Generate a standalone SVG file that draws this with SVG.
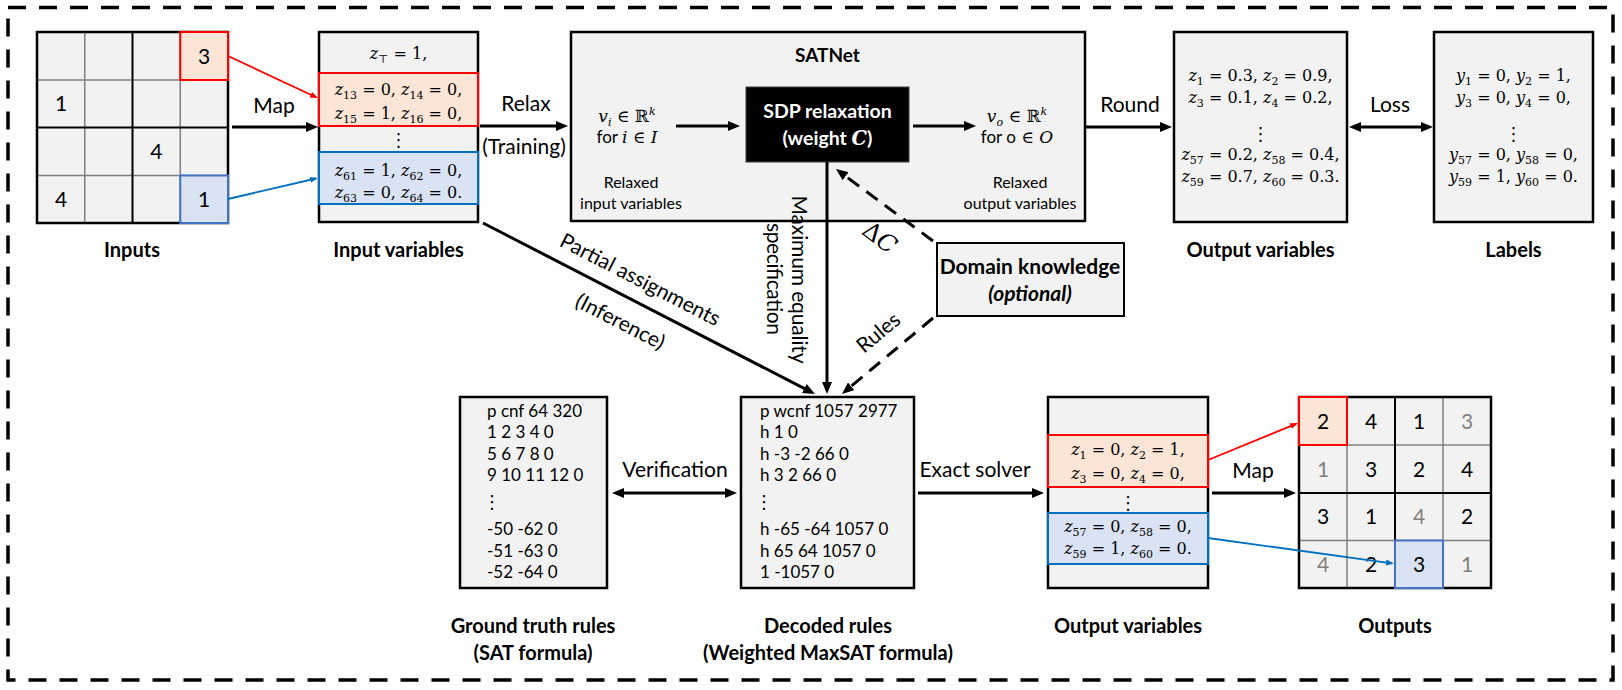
<svg xmlns="http://www.w3.org/2000/svg" width="1622" height="690" viewBox="0 0 1622 690">
<style>
.t{font-family:Lato,"Liberation Sans",sans-serif;font-size:21px;fill:#000}
.sm{font-size:16px}
.b{font-weight:bold}
.lbl{font-family:Lato,"Liberation Sans",sans-serif;font-size:20px;font-weight:bold;text-anchor:middle;fill:#000}
.m{font-family:"DejaVu Serif","Liberation Serif",serif;font-size:16px;fill:#000}
.i{font-style:italic}
.sb{font-size:11px}
.dig{font-family:Lato,"Liberation Sans",sans-serif;font-size:21px;text-anchor:middle;fill:#000}
.gr{fill:#808080}
.code{font-family:Lato,"Liberation Sans",sans-serif;font-size:17px;fill:#000}
.box{fill:#f2f2f2;stroke:#000;stroke-width:2.5}
.gl{stroke:#808080;stroke-width:1.5}
.bl{stroke:#000;stroke-width:2}
.ar{stroke:#000;stroke-width:3;fill:none}
.da{stroke:#000;stroke-width:3;fill:none;stroke-dasharray:14 9}
.dots{font-family:"DejaVu Sans",sans-serif;font-size:18px;text-anchor:middle;fill:#000}
</style>
<defs>
<marker id="ah" markerUnits="userSpaceOnUse" markerWidth="12" markerHeight="10" refX="4" refY="5" orient="auto-start-reverse"><path d="M0,0 L12,5 L0,10 z" fill="#000"/></marker>
<marker id="ahr" markerUnits="userSpaceOnUse" markerWidth="8" markerHeight="6" refX="6" refY="3" orient="auto"><path d="M0,0 L8,3 L0,6 z" fill="#ff0000"/></marker>
<marker id="ahb" markerUnits="userSpaceOnUse" markerWidth="8" markerHeight="6" refX="6" refY="3" orient="auto"><path d="M0,0 L8,3 L0,6 z" fill="#0070c0"/></marker>
</defs>

<rect x="8" y="7.5" width="1605" height="672.5" fill="none" stroke="#000" stroke-width="3.5" stroke-dasharray="18 13"/>

<g id="inputs">
<rect x="37" y="32" width="191" height="191" fill="#f2f2f2"/>
<line class="gl" x1="84.75" y1="32" x2="84.75" y2="223"/>
<line class="gl" x1="180.25" y1="32" x2="180.25" y2="223"/>
<line class="gl" x1="37" y1="80" x2="228" y2="80"/>
<line class="gl" x1="37" y1="175.5" x2="228" y2="175.5"/>
<line class="bl" x1="132.5" y1="32" x2="132.5" y2="223"/>
<line class="bl" x1="37" y1="127.5" x2="228" y2="127.5"/>
<rect x="37" y="32" width="191" height="191" fill="none" stroke="#000" stroke-width="2.5"/>
<rect x="180.25" y="32" width="47.75" height="48" fill="#fbe5d6" stroke="#ff0000" stroke-width="2"/>
<rect x="180.25" y="175.5" width="47.75" height="47.5" fill="#dae3f3" stroke="#4472c4" stroke-width="2"/>
<text class="dig" x="204" y="63.5">3</text>
<text class="dig" x="61" y="111">1</text>
<text class="dig" x="156.4" y="159">4</text>
<text class="dig" x="61" y="206.5">4</text>
<text class="dig" x="204" y="206.5">1</text>
<text class="lbl" x="132" y="257">Inputs</text>
</g>

<g id="input-variables">
<rect class="box" x="319" y="32" width="159" height="190"/>
<rect x="319" y="73" width="159" height="53" fill="#fbe5d6" stroke="#ff0000" stroke-width="2"/>
<rect x="319" y="152" width="159" height="52" fill="#dae3f3" stroke="#0070c0" stroke-width="2"/>
<text class="m" x="398.5" y="59" text-anchor="middle"><tspan class="i">z</tspan><tspan class="sb" dy="4">⊤</tspan><tspan dy="-4"> = 1,</tspan></text>
<text class="m" x="398.5" y="95" text-anchor="middle"><tspan class="i">z</tspan><tspan class="sb" dy="4">13</tspan><tspan dy="-4"> = 0, </tspan><tspan class="i">z</tspan><tspan class="sb" dy="4">14</tspan><tspan dy="-4"> = 0,</tspan></text>
<text class="m" x="398.5" y="119" text-anchor="middle"><tspan class="i">z</tspan><tspan class="sb" dy="4">15</tspan><tspan dy="-4"> = 1, </tspan><tspan class="i">z</tspan><tspan class="sb" dy="4">16</tspan><tspan dy="-4"> = 0,</tspan></text>
<text class="dots" x="398.5" y="146">⋮</text>
<text class="m" x="398.5" y="176" text-anchor="middle"><tspan class="i">z</tspan><tspan class="sb" dy="4">61</tspan><tspan dy="-4"> = 1, </tspan><tspan class="i">z</tspan><tspan class="sb" dy="4">62</tspan><tspan dy="-4"> = 0,</tspan></text>
<text class="m" x="398.5" y="198" text-anchor="middle"><tspan class="i">z</tspan><tspan class="sb" dy="4">63</tspan><tspan dy="-4"> = 0, </tspan><tspan class="i">z</tspan><tspan class="sb" dy="4">64</tspan><tspan dy="-4"> = 0.</tspan></text>
<text class="lbl" x="398.5" y="257">Input variables</text>
</g>

<g id="satnet">
<rect class="box" x="571" y="32" width="514" height="189"/>
<text class="t b" x="827.5" y="62" text-anchor="middle" style="font-size:19px">SATNet</text>
<rect x="746" y="87" width="163" height="75" fill="#000" stroke="#404040" stroke-width="1"/>
<text class="t b" x="827.5" y="118" text-anchor="middle" style="fill:#fff;font-size:19.5px">SDP relaxation</text>
<text class="t b" x="827.5" y="145" text-anchor="middle" style="fill:#fff;font-size:19.5px">(weight <tspan style="font-family:'DejaVu Serif',serif;font-style:italic;font-weight:bold">C</tspan>)</text>
<text class="m" x="627" y="122" text-anchor="middle" style="font-size:17px"><tspan class="i">v</tspan><tspan class="sb i" dy="4">i</tspan><tspan dy="-4"> ∈ ℝ</tspan><tspan class="sb i" dy="-7">k</tspan></text>
<text class="t" x="627" y="143" text-anchor="middle" style="font-size:17px">for <tspan class="m i" style="font-size:17px">i</tspan><tspan class="m" style="font-size:17px"> ∈ </tspan><tspan class="m i" style="font-size:17px">I</tspan></text>
<text class="m" x="1017" y="122" text-anchor="middle" style="font-size:17px"><tspan class="i">v</tspan><tspan class="sb i" dy="4">o</tspan><tspan dy="-4"> ∈ ℝ</tspan><tspan class="sb i" dy="-7">k</tspan></text>
<text class="t" x="1017" y="143" text-anchor="middle" style="font-size:17px">for o<tspan class="m" style="font-size:17px"> ∈ </tspan><tspan class="m i" style="font-size:17px">O</tspan></text>
<text class="t sm" x="631" y="188" text-anchor="middle">Relaxed</text>
<text class="t sm" x="631" y="209" text-anchor="middle">input variables</text>
<text class="t sm" x="1020" y="188" text-anchor="middle">Relaxed</text>
<text class="t sm" x="1020" y="209" text-anchor="middle">output variables</text>
</g>

<g id="output-variables-top">
<rect class="box" x="1174" y="32" width="173" height="190"/>
<text class="m" x="1260.5" y="81" text-anchor="middle"><tspan class="i">z</tspan><tspan class="sb" dy="4">1</tspan><tspan dy="-4"> = 0.3, </tspan><tspan class="i">z</tspan><tspan class="sb" dy="4">2</tspan><tspan dy="-4"> = 0.9,</tspan></text>
<text class="m" x="1260.5" y="103" text-anchor="middle"><tspan class="i">z</tspan><tspan class="sb" dy="4">3</tspan><tspan dy="-4"> = 0.1, </tspan><tspan class="i">z</tspan><tspan class="sb" dy="4">4</tspan><tspan dy="-4"> = 0.2,</tspan></text>
<text class="dots" x="1260.5" y="140">⋮</text>
<text class="m" x="1260.5" y="160" text-anchor="middle"><tspan class="i">z</tspan><tspan class="sb" dy="4">57</tspan><tspan dy="-4"> = 0.2, </tspan><tspan class="i">z</tspan><tspan class="sb" dy="4">58</tspan><tspan dy="-4"> = 0.4,</tspan></text>
<text class="m" x="1260.5" y="182" text-anchor="middle"><tspan class="i">z</tspan><tspan class="sb" dy="4">59</tspan><tspan dy="-4"> = 0.7, </tspan><tspan class="i">z</tspan><tspan class="sb" dy="4">60</tspan><tspan dy="-4"> = 0.3.</tspan></text>
<text class="lbl" x="1260.5" y="257">Output variables</text>
</g>

<g id="labels">
<rect class="box" x="1434" y="32" width="159" height="190"/>
<text class="m" x="1513.5" y="81" text-anchor="middle"><tspan class="i">y</tspan><tspan class="sb" dy="4">1</tspan><tspan dy="-4"> = 0, </tspan><tspan class="i">y</tspan><tspan class="sb" dy="4">2</tspan><tspan dy="-4"> = 1,</tspan></text>
<text class="m" x="1513.5" y="103" text-anchor="middle"><tspan class="i">y</tspan><tspan class="sb" dy="4">3</tspan><tspan dy="-4"> = 0, </tspan><tspan class="i">y</tspan><tspan class="sb" dy="4">4</tspan><tspan dy="-4"> = 0,</tspan></text>
<text class="dots" x="1513.5" y="140">⋮</text>
<text class="m" x="1513.5" y="160" text-anchor="middle"><tspan class="i">y</tspan><tspan class="sb" dy="4">57</tspan><tspan dy="-4"> = 0, </tspan><tspan class="i">y</tspan><tspan class="sb" dy="4">58</tspan><tspan dy="-4"> = 0,</tspan></text>
<text class="m" x="1513.5" y="182" text-anchor="middle"><tspan class="i">y</tspan><tspan class="sb" dy="4">59</tspan><tspan dy="-4"> = 1, </tspan><tspan class="i">y</tspan><tspan class="sb" dy="4">60</tspan><tspan dy="-4"> = 0.</tspan></text>
<text class="lbl" x="1513.5" y="257">Labels</text>
</g>

<g id="domain-knowledge">
<rect x="937" y="243" width="187" height="73" fill="#f2f2f2" stroke="#000" stroke-width="2"/>
<text class="t b" x="1030" y="274" text-anchor="middle">Domain knowledge</text>
<text class="t b i" x="1030" y="301" text-anchor="middle">(optional)</text>
</g>

<g id="ground-truth-rules">
<rect class="box" x="460" y="397" width="147" height="191"/>
<text class="code" x="487" y="417">p cnf 64 320</text>
<text class="code" x="487" y="438">1 2 3 4 0</text>
<text class="code" x="487" y="460">5 6 7 8 0</text>
<text class="code" x="487" y="481">9 10 11 12 0</text>
<text class="dots" x="492" y="508">⋮</text>
<text class="code" x="487" y="535">-50 -62 0</text>
<text class="code" x="487" y="557">-51 -63 0</text>
<text class="code" x="487" y="578">-52 -64 0</text>
<text class="lbl" x="533" y="633">Ground truth rules</text>
<text class="lbl" x="533" y="660">(SAT formula)</text>
</g>

<g id="decoded-rules">
<rect class="box" x="741" y="397" width="173" height="191"/>
<text class="code" x="760" y="417">p wcnf 1057 2977</text>
<text class="code" x="760" y="438">h 1 0</text>
<text class="code" x="760" y="460">h -3 -2 66 0</text>
<text class="code" x="760" y="481">h 3 2 66 0</text>
<text class="dots" x="764" y="508">⋮</text>
<text class="code" x="760" y="535">h -65 -64 1057 0</text>
<text class="code" x="760" y="557">h 65 64 1057 0</text>
<text class="code" x="760" y="578">1 -1057 0</text>
<text class="lbl" x="828" y="633">Decoded rules</text>
<text class="lbl" x="828" y="660">(Weighted MaxSAT formula)</text>
</g>

<g id="output-variables-bottom">
<rect class="box" x="1048" y="397" width="160" height="191"/>
<rect x="1048" y="435" width="160" height="52" fill="#fbe5d6" stroke="#ff0000" stroke-width="2"/>
<rect x="1048" y="513" width="160" height="51" fill="#dae3f3" stroke="#0070c0" stroke-width="2"/>
<text class="m" x="1128" y="455" text-anchor="middle"><tspan class="i">z</tspan><tspan class="sb" dy="4">1</tspan><tspan dy="-4"> = 0, </tspan><tspan class="i">z</tspan><tspan class="sb" dy="4">2</tspan><tspan dy="-4"> = 1,</tspan></text>
<text class="m" x="1128" y="479" text-anchor="middle"><tspan class="i">z</tspan><tspan class="sb" dy="4">3</tspan><tspan dy="-4"> = 0, </tspan><tspan class="i">z</tspan><tspan class="sb" dy="4">4</tspan><tspan dy="-4"> = 0,</tspan></text>
<text class="dots" x="1128" y="509">⋮</text>
<text class="m" x="1128" y="532" text-anchor="middle"><tspan class="i">z</tspan><tspan class="sb" dy="4">57</tspan><tspan dy="-4"> = 0, </tspan><tspan class="i">z</tspan><tspan class="sb" dy="4">58</tspan><tspan dy="-4"> = 0,</tspan></text>
<text class="m" x="1128" y="554" text-anchor="middle"><tspan class="i">z</tspan><tspan class="sb" dy="4">59</tspan><tspan dy="-4"> = 1, </tspan><tspan class="i">z</tspan><tspan class="sb" dy="4">60</tspan><tspan dy="-4"> = 0.</tspan></text>
<text class="lbl" x="1128" y="633">Output variables</text>
</g>

<g id="outputs">
<rect x="1299" y="397" width="192" height="191" fill="#f2f2f2"/>
<line class="gl" x1="1347" y1="397" x2="1347" y2="588"/>
<line class="gl" x1="1443" y1="397" x2="1443" y2="588"/>
<line class="gl" x1="1299" y1="445" x2="1491" y2="445"/>
<line class="gl" x1="1299" y1="540.5" x2="1491" y2="540.5"/>
<line class="bl" x1="1395" y1="397" x2="1395" y2="588"/>
<line class="bl" x1="1299" y1="493" x2="1491" y2="493"/>
<rect x="1299" y="397" width="192" height="191" fill="none" stroke="#000" stroke-width="2.5"/>
<rect x="1299" y="397" width="48" height="48" fill="#fbe5d6" stroke="#ff0000" stroke-width="2"/>
<rect x="1395" y="540.5" width="48" height="47.5" fill="#dae3f3" stroke="#4472c4" stroke-width="2"/>
<text class="dig" x="1323" y="428.5">2</text>
<text class="dig" x="1371" y="428.5">4</text>
<text class="dig" x="1419" y="428.5">1</text>
<text class="dig gr" x="1467" y="428.5">3</text>
<text class="dig gr" x="1323" y="476.5">1</text>
<text class="dig" x="1371" y="476.5">3</text>
<text class="dig" x="1419" y="476.5">2</text>
<text class="dig" x="1467" y="476.5">4</text>
<text class="dig" x="1323" y="524">3</text>
<text class="dig" x="1371" y="524">1</text>
<text class="dig gr" x="1419" y="524">4</text>
<text class="dig" x="1467" y="524">2</text>
<text class="dig gr" x="1323" y="571.5">4</text>
<text class="dig" x="1371" y="571.5">2</text>
<text class="dig" x="1419" y="571.5">3</text>
<text class="dig gr" x="1467" y="571.5">1</text>
<text class="lbl" x="1395" y="633">Outputs</text>
</g>

<g id="connectors">
<line class="ar" x1="232" y1="127" x2="310" y2="127" marker-end="url(#ah)"/>
<text class="t" x="274" y="113" text-anchor="middle">Map</text>
<line x1="228" y1="56" x2="316.2" y2="97.2" stroke="#ff0000" stroke-width="1.8" marker-end="url(#ahr)"/>
<line x1="228" y1="199" x2="316" y2="178.5" stroke="#0070c0" stroke-width="1.8" marker-end="url(#ahb)"/>
<line class="ar" x1="480" y1="126" x2="560" y2="126" marker-end="url(#ah)"/>
<text class="t" x="526" y="111" text-anchor="middle">Relax</text>
<text class="t" x="524" y="154" text-anchor="middle">(Training)</text>
<line class="ar" x1="676" y1="126" x2="732" y2="126" marker-end="url(#ah)"/>
<line class="ar" x1="913" y1="126" x2="968" y2="126" marker-end="url(#ah)"/>
<line class="ar" x1="1085" y1="127" x2="1164" y2="127" marker-end="url(#ah)"/>
<text class="t" x="1130" y="112" text-anchor="middle">Round</text>
<line class="ar" x1="1357" y1="127" x2="1425" y2="127" marker-start="url(#ah)" marker-end="url(#ah)"/>
<text class="t" x="1390" y="112" text-anchor="middle">Loss</text>
<line class="ar" x1="827" y1="162" x2="827" y2="386" marker-end="url(#ah)"/>
<text class="t" transform="translate(792,279.5) rotate(90)" text-anchor="middle" textLength="168" lengthAdjust="spacing">Maximum equality</text>
<text class="t" transform="translate(767,279) rotate(90)" text-anchor="middle" textLength="112" lengthAdjust="spacing">specification</text>
<line class="ar" x1="483" y1="223" x2="807.9" y2="390.3" marker-end="url(#ah)"/>
<text class="t" transform="translate(637,286) rotate(27.25)" text-anchor="middle">Partial assignments</text>
<text class="t" transform="translate(617,328) rotate(27.25)" text-anchor="middle">(Inference)</text>
<line class="da" x1="933" y1="241" x2="842.4" y2="173.8" marker-end="url(#ah)"/>
<text class="m" style="font-size:24px" transform="translate(875,244) rotate(37)" text-anchor="middle">Δ<tspan class="i">C</tspan></text>
<line class="da" x1="933" y1="318" x2="848.1" y2="388.9" marker-end="url(#ah)"/>
<text class="t" transform="translate(883,338) rotate(-40)" text-anchor="middle">Rules</text>
<line class="ar" x1="620" y1="493" x2="729" y2="493" marker-start="url(#ah)" marker-end="url(#ah)"/>
<text class="t" x="675" y="477" text-anchor="middle">Verification</text>
<line class="ar" x1="918" y1="493" x2="1036" y2="493" marker-end="url(#ah)"/>
<text class="t" x="975" y="477" text-anchor="middle">Exact solver</text>
<line class="ar" x1="1212" y1="493" x2="1288" y2="493" marker-end="url(#ah)"/>
<text class="t" x="1253" y="478" text-anchor="middle">Map</text>
<line x1="1208" y1="460" x2="1296.2" y2="423.8" stroke="#ff0000" stroke-width="1.8" marker-end="url(#ahr)"/>
<line x1="1208" y1="538" x2="1392" y2="563.3" stroke="#0070c0" stroke-width="1.8" marker-end="url(#ahb)"/>
</g>
</svg>
